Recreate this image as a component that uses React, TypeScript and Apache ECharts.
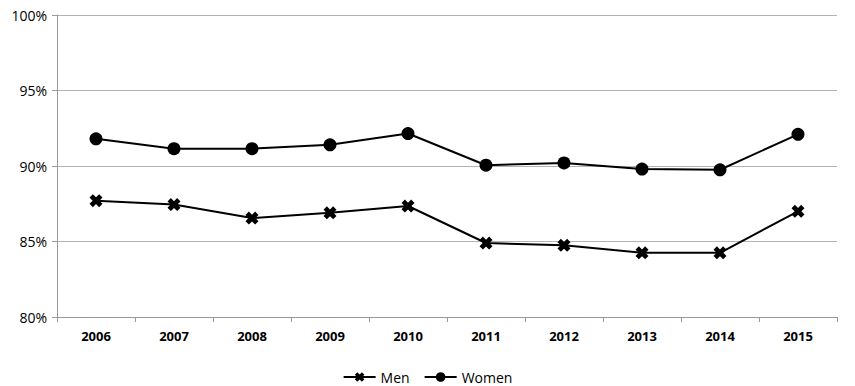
import React, { useEffect, useRef } from "react";
import * as echarts from "echarts";

const years = ["2006", "2007", "2008", "2009", "2010", "2011", "2012", "2013", "2014", "2015"];
const men = [87.7, 87.45, 86.55, 86.9, 87.35, 84.9, 84.75, 84.25, 84.25, 87.0];
const women = [91.8, 91.15, 91.15, 91.4, 92.15, 90.05, 90.2, 89.8, 89.75, 92.1];
const yTicks = [80, 85, 90, 95, 100];

const crossPath =
  "path://M2.6,0 L5,2.4 L7.4,0 L10,2.6 L7.6,5 L10,7.4 L7.4,10 L5,7.6 L2.6,10 L0,7.4 L2.4,5 L0,2.6 Z";

export default function App() {
  const ref = useRef<HTMLDivElement>(null);
  useEffect(() => {
    if (!ref.current) return;
    const chart = echarts.init(ref.current, undefined, { renderer: "svg" });
    const font = "'Open Sans', 'Liberation Sans', sans-serif";
    chart.setOption({
      animation: false,
      grid: { left: 57, right: 18, top: 15, bottom: 69 },
      legend: {
        top: 369,
        left: "center",
        padding: 0,
        itemWidth: 32,
        itemHeight: 12,
        itemGap: 14,
        textStyle: { fontFamily: font, fontSize: 14, lineHeight: 16, color: "#000" },
        data: ["Men", "Women"],
      },
      xAxis: {
        type: "category",
        data: years,
        boundaryGap: true,
        axisLine: { lineStyle: { color: "#999" } },
        axisTick: { show: true, alignWithLabel: false, lineStyle: { color: "#999" }, length: 5 },
        axisLabel: { fontFamily: font, fontSize: 13, fontWeight: "bold", color: "#000", margin: 12 },
      },
      yAxis: {
        type: "value",
        min: yTicks[0],
        max: yTicks[yTicks.length - 1],
        interval: 5,
        axisLine: { show: true, lineStyle: { color: "#999" } },
        axisTick: { show: true, length: 5, lineStyle: { color: "#999" } },
        splitLine: { lineStyle: { color: "#b3b3b3", width: 1 } },
        axisLabel: {
          fontFamily: font,
          fontSize: 14,
          color: "#000",
          margin: 10,
          formatter: (v: number) => v + "%",
        },
      },
      series: [
        {
          name: "Men",
          type: "line",
          data: men,
          symbol: crossPath,
          symbolSize: 13,
          itemStyle: { color: "#000" },
          lineStyle: { color: "#000", width: 2 },
        },
        {
          name: "Women",
          type: "line",
          data: women,
          symbol: "circle",
          symbolSize: 13,
          itemStyle: { color: "#000" },
          lineStyle: { color: "#000", width: 2 },
        },
      ],
    });
    return () => chart.dispose();
  }, []);
  return (
    <div
      ref={ref}
      style={{ position: "absolute", left: 0, top: 0, width: 855, height: 386 }}
    />
  );
}
